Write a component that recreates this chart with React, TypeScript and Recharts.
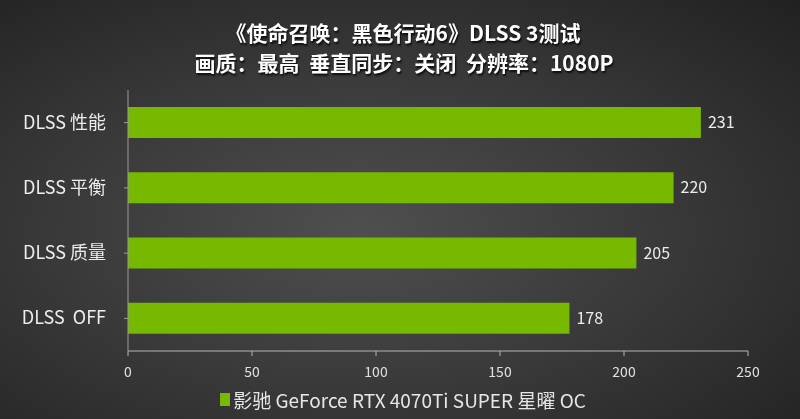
import { BarChart, Bar, XAxis, YAxis, LabelList, Legend } from "recharts";

const categories = ["DLSS 性能", "DLSS 平衡", "DLSS 质量", "DLSS  OFF"];
const fps = [231, 220, 205, 178];
const xTicks = [0, 50, 100, 150, 200, 250];
const seriesName = "影驰 GeForce RTX 4070Ti SUPER 星曜 OC";

const data = categories.map((c, i) => ({ name: c, fps: fps[i] }));

const font = '"Noto Sans CJK SC", "Noto Sans", sans-serif';

function YTick(props: any) {
  const { x, y, payload } = props;
  return (
    <text
      x={x - 16}
      y={y}
      dy={6}
      textAnchor="end"
      fill="#ececec"
      fontSize={18}
      fontFamily={font}
      style={{ whiteSpace: "pre" }}
    >
      {payload.value}
    </text>
  );
}

function LegendContent() {
  return (
    <div
      style={{
        display: "flex",
        justifyContent: "center",
        alignItems: "center",
        fontFamily: font,
        fontSize: 19,
        color: "#e6e6e6",
        paddingTop: 1,
        paddingLeft: 6,
      }}
    >
      <span style={{ width: 10, height: 13, background: "#76b900", marginRight: 3, display: "inline-block" }} />
      {seriesName}
    </div>
  );
}

export default function App() {
  return (
    <div
      style={{
        position: "fixed",
        left: 0,
        top: 0,
        width: 800,
        height: 419,
        background: "radial-gradient(ellipse at 45% 55%, #4f4f4f 0%, #3b3b3b 45%, #212121 100%)",
        fontFamily: font,
      }}
    >
      <div
        style={{
          position: "absolute",
          top: 17,
          width: 800,
          textAlign: "center",
          color: "#fff",
          fontWeight: 700,
          fontSize: 21,
          lineHeight: "30px",
          textShadow: "1px 2px 2px rgba(0,0,0,0.8)",
        }}
      >
        <div style={{ paddingLeft: 6 }}>《使命召唤：黑色行动6》DLSS 3测试</div>
        <div style={{ wordSpacing: 5, paddingLeft: 8 }}>画质：最高 垂直同步：关闭 分辨率：1080P</div>
      </div>
      <BarChart
        width={800}
        height={419}
        data={data}
        layout="vertical"
        margin={{ top: 90, right: 52, left: 0, bottom: 0 }}
        barCategoryGap="26%"
        style={{ position: "absolute", left: 0, top: 0 }}
      >
        <XAxis
          type="number"
          domain={[0, 250]}
          ticks={xTicks}
          stroke="#b5b5b5"
          tickLine={{ stroke: "#b5b5b5" }}
          tickSize={5}
          tickMargin={11}
          tick={{ fill: "#e0e0e0", fontSize: 14, fontFamily: font }}
          height={34}
        />
        <YAxis
          type="category"
          dataKey="name"
          width={128}
          stroke="#9a9a9a"
          tickSize={4}
          tick={<YTick />}
        />
        <Legend
          verticalAlign="bottom"
          height={34}
          content={<LegendContent />}
          wrapperStyle={{ left: 0, width: 800 }}
        />
        <Bar dataKey="fps" name={seriesName} fill="#76b900" isAnimationActive={false}>
          <LabelList
            dataKey="fps"
            position="right"
            offset={7}
            fill="#ececec"
            fontSize={16}
            fontFamily={font}
          />
        </Bar>
      </BarChart>
    </div>
  );
}
